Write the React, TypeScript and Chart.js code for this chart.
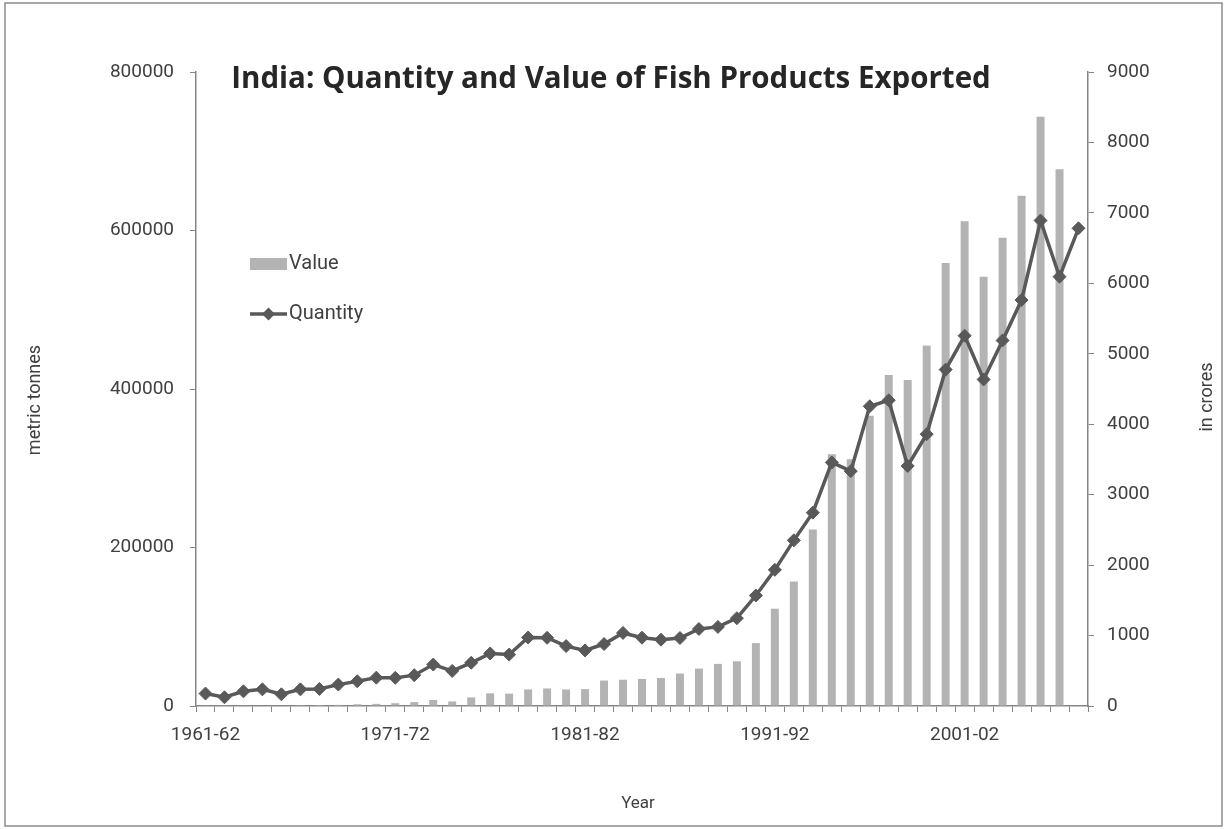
import React, { useEffect, useRef } from 'react';
import { Chart, registerables } from 'chart.js';

Chart.register(...registerables);

// ---------- data ----------
const years: string[] = [
  '1961-62', '1962-63', '1963-64', '1964-65', '1965-66', '1966-67', '1967-68', '1968-69', '1969-70', '1970-71',
  '1971-72', '1972-73', '1973-74', '1974-75', '1975-76', '1976-77', '1977-78', '1978-79', '1979-80', '1980-81',
  '1981-82', '1982-83', '1983-84', '1984-85', '1985-86', '1986-87', '1987-88', '1988-89', '1989-90', '1990-91',
  '1991-92', '1992-93', '1993-94', '1994-95', '1995-96', '1996-97', '1997-98', '1998-99', '1999-00', '2000-01',
  '2001-02', '2002-03', '2003-04', '2004-05', '2005-06', '2006-07', '2007-08',
];

const shownYearLabels: string[] = ['1961-62', '1971-72', '1981-82', '1991-92', '2001-02'];

// Quantity, metric tonnes (left axis)
const quantityTonnes: number[] = [
  15700, 11000, 18500, 21000, 14800, 21000, 21500, 27000, 31200, 35800,
  35500, 38900, 52300, 44300, 54500, 66300, 64900, 86400, 86100, 75600,
  70100, 78200, 92200, 86200, 83700, 85800, 97200, 99800, 110800, 139400,
  171800, 209000, 244000, 307300, 296300, 378200, 385800, 302900, 343000, 424500,
  467300, 412000, 461300, 512200, 612600, 541700, 602800,
];

// Value, in crores (right axis)
const valueCrores: (number | null)[] = [
  3.9, 4.6, 6.1, 7.1, 7.1, 12, 13, 16, 24, 30,
  40, 55, 85, 65, 122, 180, 176, 235, 249, 235,
  240, 361, 373, 384, 398, 461, 531, 598, 635, 893,
  1380, 1768, 2504, 3575, 3501, 4121, 4697, 4627, 5117, 6288,
  6881, 6092, 6647, 7245, 8364, 7621, null,
];

const leftTicks = { min: 0, max: 800000, step: 200000 };
const rightTicks = { min: 0, max: 9000, step: 1000 };

const titleText = 'India: Quantity and Value of Fish Products Exported';
const leftAxisTitle = 'metric tonnes';
const rightAxisTitle = 'in crores';
const xAxisTitle = 'Year';

// ---------- style ----------
const FONT = 'Roboto';
const TITLE_FONT = '"Open Sans"';
const AXIS = '#868686';
const TEXT = '#404040';
const BAR = '#b3b3b3';
const LINE = '#595959';

const W = 1226;
const H = 829;

const decorPlugin = {
  id: 'decor',
  afterDraw(chart: any) {
    const ctx: CanvasRenderingContext2D = chart.ctx;
    const area = chart.chartArea;
    ctx.save();

    // outer border
    ctx.strokeStyle = '#8c8c8c';
    ctx.lineWidth = 1.5;
    ctx.strokeRect(5, 3, W - 9, H - 6);

    // title
    ctx.fillStyle = '#262626';
    ctx.font = `bold 29.5px ${TITLE_FONT}`;
    ctx.textAlign = 'center';
    ctx.textBaseline = 'alphabetic';
    ctx.fillText(titleText, 611, 88);

    // legend
    const lx = area.left + 54;
    ctx.fillStyle = BAR;
    ctx.fillRect(lx, 258, 37, 12);
    ctx.fillStyle = TEXT;
    ctx.font = `20px ${FONT}`;
    ctx.textAlign = 'left';
    ctx.textBaseline = 'middle';
    ctx.fillText('Value', lx + 39, 264);

    ctx.strokeStyle = LINE;
    ctx.lineWidth = 3.5;
    ctx.beginPath();
    ctx.moveTo(lx, 314);
    ctx.lineTo(lx + 37, 314);
    ctx.stroke();
    ctx.fillStyle = LINE;
    const mx = lx + 18.5;
    const r = 6.5;
    ctx.beginPath();
    ctx.moveTo(mx, 314 - r);
    ctx.lineTo(mx + r, 314);
    ctx.lineTo(mx, 314 + r);
    ctx.lineTo(mx - r, 314);
    ctx.closePath();
    ctx.fill();
    ctx.fillStyle = TEXT;
    ctx.fillText('Quantity', lx + 39, 314);

    // axis titles
    ctx.font = `18px ${FONT}`;
    ctx.textAlign = 'center';
    ctx.textBaseline = 'middle';
    ctx.save();
    ctx.translate(35, 400);
    ctx.rotate(-Math.PI / 2);
    ctx.fillText(leftAxisTitle, 0, 0);
    ctx.restore();

    ctx.save();
    ctx.translate(1207, 397);
    ctx.rotate(-Math.PI / 2);
    ctx.fillText(rightAxisTitle, 0, 0);
    ctx.restore();

    ctx.font = `17px ${FONT}`;
    ctx.fillText(xAxisTitle, (area.left + area.right) / 2 - 4, 804);

    ctx.restore();
  },
};

export default function App() {
  const ref = useRef<HTMLCanvasElement>(null);

  useEffect(() => {
    const canvas = ref.current;
    if (!canvas) return;
    const chart = new Chart(canvas, {
      type: 'bar',
      data: {
        labels: years,
        datasets: [
          {
            type: 'bar',
            label: 'Value',
            data: valueCrores,
            yAxisID: 'y1',
            backgroundColor: BAR,
            borderWidth: 0,
            barPercentage: 0.42,
            categoryPercentage: 1,
            order: 2,
          } as any,
          {
            type: 'line',
            label: 'Quantity',
            data: quantityTonnes,
            yAxisID: 'y',
            borderColor: LINE,
            borderWidth: 3.5,
            backgroundColor: LINE,
            pointStyle: 'rectRot',
            pointRadius: 6.5,
            pointBackgroundColor: LINE,
            pointBorderColor: LINE,
            pointBorderWidth: 1,
            tension: 0,
            fill: false,
            order: 1,
          } as any,
        ],
      },
      options: {
        responsive: false,
        animation: false,
        devicePixelRatio: 1,
        layout: { padding: { top: 72, left: 0, right: 0, bottom: 0 } },
        plugins: {
          legend: { display: false },
          title: { display: false },
          tooltip: { enabled: false },
        },
        scales: {
          x: {
            type: 'category',
            offset: true,
            grid: {
              display: true,
              drawOnChartArea: false,
              drawTicks: true,
              tickLength: 6,
              color: AXIS,
              lineWidth: 1,
              offset: true,
            },
            border: { display: true, color: AXIS, width: 1.5 },
            ticks: {
              autoSkip: false,
              maxRotation: 0,
              minRotation: 0,
              padding: 12,
              color: TEXT,
              font: { family: FONT, size: 19 },
              callback: (_v: any, i: number) => (shownYearLabels.includes(years[i]) ? years[i] : ''),
            },
            afterFit: (s: any) => {
              s.height = 123;
            },
          },
          y: {
            type: 'linear',
            position: 'left',
            min: leftTicks.min,
            max: leftTicks.max,
            grid: { display: true, drawOnChartArea: false, drawTicks: true, tickLength: 6, color: AXIS, lineWidth: 1 },
            border: { display: true, color: AXIS, width: 1.5 },
            ticks: {
              stepSize: leftTicks.step,
              padding: 16,
              color: TEXT,
              font: { family: FONT, size: 19 },
              callback: (v: any) => String(v),
            },
            afterFit: (s: any) => {
              s.width = 196;
            },
          },
          y1: {
            type: 'linear',
            position: 'right',
            min: rightTicks.min,
            max: rightTicks.max,
            grid: { display: true, drawOnChartArea: false, drawTicks: true, tickLength: 6, color: AXIS, lineWidth: 1 },
            border: { display: true, color: AXIS, width: 1.5 },
            ticks: {
              stepSize: rightTicks.step,
              padding: 13,
              color: TEXT,
              font: { family: FONT, size: 19 },
              callback: (v: any) => String(v),
            },
            afterFit: (s: any) => {
              s.width = W - 1088;
            },
          },
        },
      } as any,
      plugins: [decorPlugin],
    });
    return () => chart.destroy();
  }, []);

  return (
    <canvas
      ref={ref}
      width={W}
      height={H}
      style={{ position: 'absolute', left: 0, top: 0, display: 'block', background: '#ffffff' }}
    />
  );
}
